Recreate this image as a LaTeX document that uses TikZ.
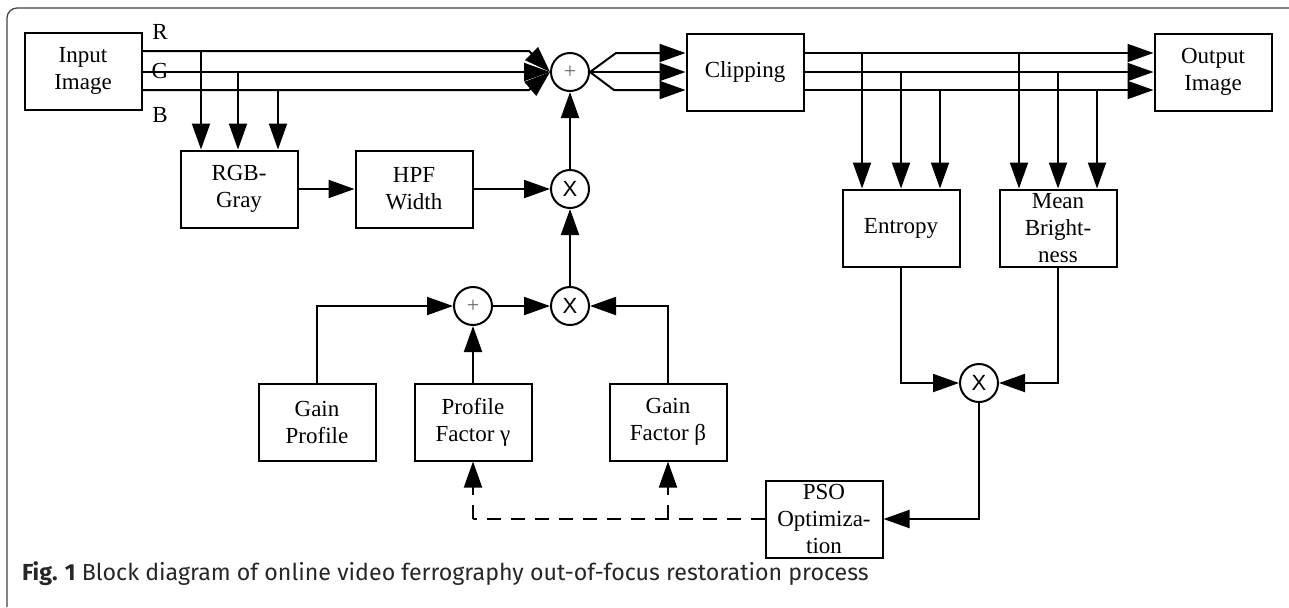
\documentclass[tikz,border=0pt]{standalone}
\usepackage{fontspec}
\setmainfont{Liberation Serif}
\newfontfamily\opfont{Liberation Sans}
\newfontfamily\capfont{Fira Sans}
\usetikzlibrary{arrows.meta,calc}
\tikzset{
  fx/.style={x=0.5pt, y=-0.5pt},
  d box/.style={draw, line width=1pt, align=center, minimum width=58.5pt, minimum height=38.5pt, inner sep=1pt, font=\fontsize{11.5}{13.5}\selectfont},
  d op/.style={draw, circle, line width=1pt, minimum size=19pt, inner sep=0pt, font=\opfont\fontsize{11}{11}\selectfont},
  d plus/.style={d op, font=\fontsize{11}{11}\selectfont, text=black!60},
  d lbl/.style={font=\fontsize{11.5}{11.5}\selectfont},
  d sig/.style={line width=1pt},
  d arr/.style={d sig, -{Triangle[length=13pt, width=9pt]}},
  d fb/.style={d arr, dash pattern=on 7pt off 5pt},
  d frame/.style={draw=black!75, line width=0.6pt, rounded corners=5pt},
  d cap/.style={anchor=west, text=black!85, font=\capfont\fontsize{11.6}{13}\selectfont},
}

\begin{document}
\begin{tikzpicture}[fx]
\useasboundingbox (0,0) rectangle (1289,607);
\draw[d frame] (7,607) -- (7,8) -- (1289,8);
\node[d box] (in) at (83,71) {Input\\Image};
\node[d box] (rgb) at (239,189) {RGB-\\Gray};
\node[d box] (hpf) at (414,189) {HPF\\Width};
\node[d box] (clip) at (745,72) {Clipping};
\node[d box] (out) at (1213,72) {Output\\Image};
\node[d box] (ent) at (901,228) {Entropy};
\node[d box] (mean) at (1058,228) {Mean\\Bright-\\ness};
\node[d box] (gprof) at (317,422) {Gain\\Profile};
\node[d box] (pfac) at (473,422) {Profile\\Factor γ};
\node[d box] (gfac) at (668,422) {Gain\\Factor β};
\node[d box] (pso) at (824,519) {PSO\\Optimiza-\\tion};
\node[d plus] (sumA) at (570,72) {+};
\node[d op] (mulA) at (570,189) {X};
\node[d plus] (sumB) at (473,306) {+};
\node[d op] (mulB) at (570,306) {X};
\node[d op] (mulC) at (979,383) {X};
\node[d lbl] (lR) at (160,32) {R};
\node[d lbl] (lG) at (160,71) {G};
\node[d lbl] (lB) at (160,115) {B};
\coordinate (yR) at (0,51); \coordinate (yG) at (0,72); \coordinate (yB) at (0,90); \coordinate (yR2) at (0,53);
\draw[d arr] (in.east |- yR) -- ($(sumA.west |- yR)+(-21,0)$) -- (sumA.west);
\draw[d arr] (in.east |- yG) -- (sumA.west);
\draw[d arr] (in.east |- yB) -- ($(sumA.west |- yB)+(-21,0)$) -- (sumA.west);
\foreach \dx/\row [count=\i] in {-38/yR, -1/yG, 39/yB} {
  \coordinate (ta\i) at ($(rgb.north)+(\dx,0)$);
  \draw[d arr] (ta\i |- \row) -- (ta\i);
}
\draw[d arr] (sumA.east) -- ($(sumA.east |- yR2)+(26,0)$) -- (clip.west |- yR2);
\draw[d arr] (sumA.east) -- (clip.west |- yG);
\draw[d arr] (sumA.east) -- ($(sumA.east |- yB)+(24,0)$) -- (clip.west |- yB);
\foreach \row in {yR2, yG, yB} \draw[d arr] (clip.east |- \row) -- (out.west |- \row);
\foreach \blk in {ent, mean} {
  \foreach \dx/\row [count=\i] in {-39/yR2, 0/yG, 39/yB} {
    \coordinate (t\blk\i) at ($(\blk.north)+(\dx,0)$);
    \draw[d arr] (t\blk\i |- \row) -- (t\blk\i);
  }
}
\draw[d arr] (rgb) -- (hpf); \draw[d arr] (hpf) -- (mulA); \draw[d arr] (mulA) -- (sumA);
\draw[d arr] (mulB) -- (mulA); \draw[d arr] (sumB) -- (mulB);
\draw[d arr] (gprof.north) |- (sumB.west); \draw[d arr] (pfac.north) -- (sumB.south);
\draw[d arr] (gfac.north) |- (mulB.east);
\draw[d arr] (ent.south) |- (mulC.west); \draw[d arr] (mean.south) |- (mulC.east);
\draw[d arr] (mulC.south) |- (pso.east);
\draw[d sig, dash pattern=on 7pt off 5pt] (pso.west) -- (pfac.south |- pso.west);
\draw[d fb] (pfac.south |- pso.west) -- (pfac.south);
\draw[d fb] (gfac.south |- pso.west) -- (gfac.south);
\node[d cap] (cap) at (15,574) {\textbf{Fig. 1} Block diagram of online video ferrography out-of-focus restoration process};
\end{tikzpicture}
\end{document}
